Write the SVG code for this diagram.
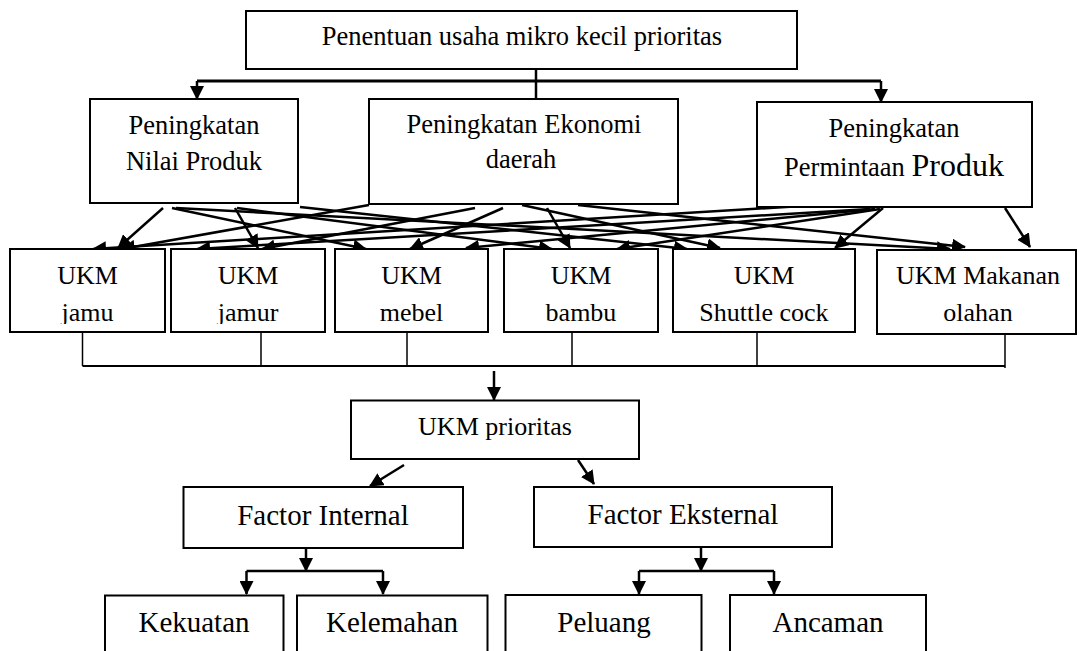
<svg xmlns="http://www.w3.org/2000/svg" width="1079" height="651" viewBox="0 0 1079 651">
<style>
.box{fill:#fff;stroke:#000;stroke-width:2}
.t{font-family:"Liberation Serif","Times New Roman",serif;font-size:26.5px;fill:#000;text-anchor:middle}
.tu{font-family:"Liberation Serif","Times New Roman",serif;font-size:26px;fill:#000;text-anchor:middle}
.tb{font-family:"Liberation Serif","Times New Roman",serif;font-size:29px;fill:#000;text-anchor:middle}
.c{fill:none;stroke:#000;stroke-width:2.5}
.thick{fill:none;stroke:#000;stroke-width:3}
.thin{fill:none;stroke:#000;stroke-width:1.5}
.bus{fill:none;stroke:#000;stroke-width:2}
.a{marker-end:url(#ah)}
</style>
<defs>
<marker id="ah" viewBox="0 0 14 14" refX="13" refY="7" markerWidth="14" markerHeight="14" markerUnits="userSpaceOnUse" orient="auto">
<path d="M0,0 L14,7 L0,14 z" fill="#000"/>
</marker>
<clipPath id="rowclip"><rect x="0" y="240" width="1079" height="84"/></clipPath>
</defs>
<rect width="1079" height="651" fill="#fff"/>

<g id="connectors">
<line class="c" x1="536" y1="69" x2="536" y2="99"/>
<line class="thick" x1="197" y1="81" x2="881" y2="81"/>
<line class="c a" x1="197" y1="81" x2="197" y2="99"/>
<line class="c a" x1="881" y1="81" x2="881" y2="102"/>
<line class="c a" x1="163" y1="208" x2="118" y2="248"/>
<line class="c a" x1="235" y1="208" x2="258" y2="248"/>
<line class="c a" x1="172" y1="208" x2="366" y2="249"/>
<line class="c a" x1="237" y1="208" x2="552" y2="249"/>
<line class="c a" x1="300" y1="207" x2="687" y2="249"/>
<line class="c a" x1="176" y1="208" x2="950" y2="249"/>
<line class="c a" x1="369" y1="205" x2="122" y2="249"/>
<line class="c a" x1="475" y1="208" x2="262" y2="249"/>
<line class="c a" x1="503" y1="208" x2="410" y2="249"/>
<line class="c a" x1="547" y1="208" x2="570" y2="248"/>
<line class="c a" x1="522" y1="205" x2="720" y2="248"/>
<line class="c a" x1="578" y1="205" x2="965" y2="247"/>
<line class="c a" x1="818" y1="205" x2="93" y2="249"/>
<line class="c a" x1="870" y1="209" x2="197" y2="249"/>
<line class="c a" x1="875" y1="209" x2="466" y2="248"/>
<line class="c a" x1="880" y1="209" x2="617" y2="249"/>
<line class="c a" x1="883" y1="208" x2="835" y2="248"/>
<line class="c a" x1="1005" y1="208" x2="1030" y2="247"/>
<line class="thin" x1="82.5" y1="332" x2="82.5" y2="366"/>
<line class="thin" x1="261" y1="332" x2="261" y2="366"/>
<line class="thin" x1="407" y1="332" x2="407" y2="366"/>
<line class="thin" x1="572" y1="332" x2="572" y2="366"/>
<line class="thin" x1="757" y1="332" x2="757" y2="366"/>
<line class="thin" x1="1005" y1="334" x2="1005" y2="368"/>
<line class="bus" x1="82.5" y1="366" x2="1005" y2="366"/>
<line class="c a" x1="494" y1="371" x2="494" y2="400"/>
<line class="c a" x1="404" y1="465" x2="370" y2="486"/>
<line class="c a" x1="578" y1="460" x2="594" y2="484"/>
<line class="c a" x1="306" y1="548" x2="306" y2="571"/>
<line class="c" x1="246.5" y1="571" x2="383" y2="571"/>
<line class="c a" x1="246.5" y1="571" x2="246.5" y2="594"/>
<line class="c a" x1="383" y1="571" x2="383" y2="594"/>
<line class="c a" x1="701" y1="547" x2="701" y2="571"/>
<line class="c" x1="639" y1="571" x2="774" y2="571"/>
<line class="c a" x1="639" y1="571" x2="639" y2="594"/>
<line class="c a" x1="774" y1="571" x2="774" y2="594"/>
</g>

<g id="n-top"><rect class="box" x="246" y="11" width="551" height="58"/><text class="t" x="522" y="45">Penentuan usaha mikro kecil prioritas</text></g>
<g id="n-nilai"><rect class="box" x="90" y="99" width="208" height="104"/><text class="t" x="194" y="134">Peningkatan</text><text class="t" x="194" y="170">Nilai Produk</text></g>
<g id="n-ekonomi"><rect class="box" x="369" y="99" width="309" height="105"/><text class="t" x="524" y="133">Peningkatan Ekonomi</text><text class="t" x="521" y="168">daerah</text></g>
<g id="n-permintaan"><rect class="box" x="757" y="102" width="275" height="105"/><text class="t" x="894" y="137">Peningkatan</text><text class="t" x="894" y="176">Permintaan <tspan font-size="32">Produk</tspan></text></g>

<g id="n-jamu"><rect class="box" x="10" y="249" width="155" height="83"/><text class="tu" x="87.5" y="284">UKM</text><text class="tu" x="87.5" y="321" clip-path="url(#rowclip)">jamu</text></g>
<g id="n-jamur"><rect class="box" x="171" y="249" width="154" height="83"/><text class="tu" x="248" y="284">UKM</text><text class="tu" x="248" y="321" clip-path="url(#rowclip)">jamur</text></g>
<g id="n-mebel"><rect class="box" x="335" y="249" width="153" height="83"/><text class="tu" x="411.5" y="284">UKM</text><text class="tu" x="411.5" y="321">mebel</text></g>
<g id="n-bambu"><rect class="box" x="504" y="249" width="154" height="83"/><text class="tu" x="581" y="284">UKM</text><text class="tu" x="581" y="321">bambu</text></g>
<g id="n-shuttle"><rect class="box" x="673" y="249" width="182" height="83"/><text class="tu" x="764" y="284">UKM</text><text class="tu" x="764" y="321">Shuttle cock</text></g>
<g id="n-makanan"><rect class="box" x="877" y="250" width="199" height="84"/><text class="tu" x="978" y="284">UKM Makanan</text><text class="tu" x="978" y="321">olahan</text></g>

<g id="n-prioritas"><rect class="box" x="351" y="400.5" width="288" height="58.5"/><text class="tu" x="495" y="435">UKM prioritas</text></g>
<g id="n-internal"><rect class="box" x="183.5" y="487" width="279.5" height="61"/><text class="tb" x="323" y="525">Factor Internal</text></g>
<g id="n-eksternal"><rect class="box" x="534" y="487" width="298" height="60"/><text class="tb" x="683" y="524">Factor Eksternal</text></g>
<g id="n-kekuatan"><rect class="box" x="105" y="595.5" width="178.5" height="70"/><text class="tb" x="194" y="632">Kekuatan</text></g>
<g id="n-kelemahan"><rect class="box" x="297" y="595.5" width="190.5" height="70"/><text class="tb" x="392" y="632">Kelemahan</text></g>
<g id="n-peluang"><rect class="box" x="505.5" y="595" width="196" height="70"/><text class="tb" x="604" y="632">Peluang</text></g>
<g id="n-ancaman"><rect class="box" x="730" y="595" width="196" height="70"/><text class="tb" x="828" y="632">Ancaman</text></g>
</svg>
